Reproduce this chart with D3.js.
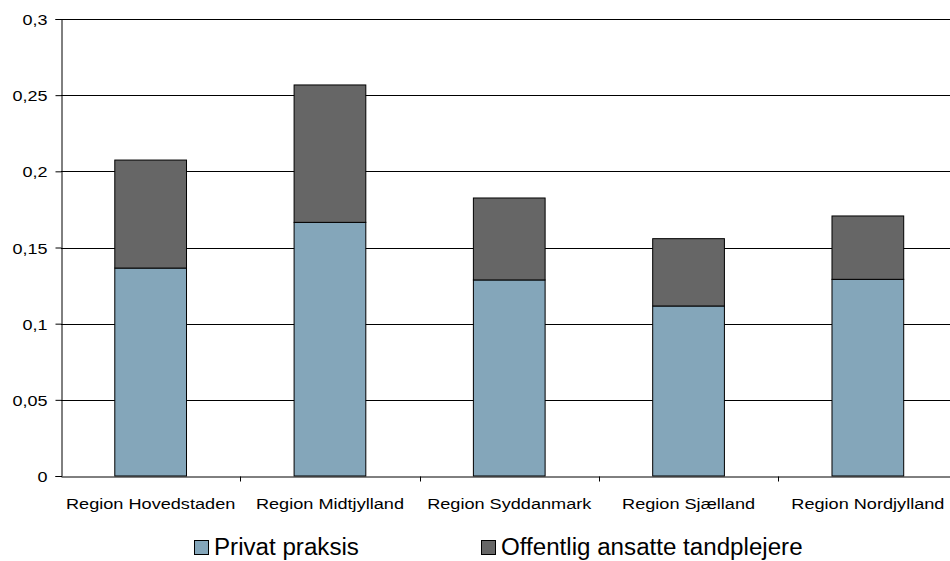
<!DOCTYPE html>
<html><head><meta charset="utf-8">
<script src="https://cdn.jsdelivr.net/npm/d3@7"></script>
<style>body{margin:0;background:#fff}svg{display:block;font-family:"Liberation Sans",Arial,sans-serif}</style>
</head><body><svg id="c" width="950" height="561"></svg>
<script>
const categories = ["Region Hovedstaden","Region Midtjylland","Region Syddanmark","Region Sjælland","Region Nordjylland"];
const privat = [0.1365,0.1665,0.1287,0.1116,0.1291];
const offentlig = [0.0709,0.0902,0.0538,0.0442,0.0416];
const seriesNames = ["Privat praksis","Offentlig ansatte tandplejere"];
const yTicks = [0,0.05,0.1,0.15,0.2,0.25,0.3];
const yTickLabels = ["0","0,05","0,1","0,15","0,2","0,25","0,3"];
const colors = ["#84A6BA","#666666"];

const svg = d3.select("#c");
const L=61, R=957.5, T=19, B=476;
const FONT = "Liberation Sans, Arial, sans-serif";
const x = d3.scaleBand().domain(categories).range([L,R]).paddingInner(0).paddingOuter(0);
const y = d3.scaleLinear().domain([0,0.3]).range([B,T]);

// gridlines
svg.append("g").selectAll("line").data(yTicks.slice(1)).join("line")
 .attr("x1",L).attr("x2",R).attr("y1",d=>Math.round(y(d))+0.5).attr("y2",d=>Math.round(y(d))+0.5)
 .attr("stroke","#000").attr("stroke-width",1);

const data = categories.map((c,i)=>({cat:c,p:privat[i],o:offentlig[i]}));
const bw = x.bandwidth()*0.4;
const g = svg.append("g");
data.forEach(d=>{
  const cx = x(d.cat)+x.bandwidth()/2;
  g.append("rect").attr("x",cx-bw/2).attr("width",bw).attr("y",y(d.p)).attr("height",y(0)-y(d.p))
   .attr("fill",colors[0]).attr("stroke","#000").attr("stroke-width",1);
  g.append("rect").attr("x",cx-bw/2).attr("width",bw).attr("y",y(d.p+d.o)).attr("height",y(d.p)-y(d.p+d.o))
   .attr("fill",colors[1]).attr("stroke","#000").attr("stroke-width",1);
});

// y axis
const ya = d3.axisLeft(y).tickValues(yTicks).tickFormat((d,i)=>yTickLabels[i]).tickSize(6).tickPadding(8);
const yg = svg.append("g").attr("transform",`translate(${L+0.5},0)`).call(ya);
yg.select(".domain").attr("stroke","#000");
yg.selectAll(".tick line").attr("stroke","#000");
yg.selectAll("text").attr("font-size","15.5px").attr("fill","#000").attr("font-family",FONT)
  .attr("x",0).attr("dy","0.36em").attr("transform","translate(-14,0) scale(1.16,1)");

// x axis
const xa = d3.axisBottom(x).tickSize(0).tickPadding(0);
const xg = svg.append("g").attr("transform",`translate(0,${B+0.5})`).call(xa);
xg.select(".domain").attr("stroke","#000");
xg.selectAll("text").attr("font-size","15.5px").attr("fill","#000").attr("font-family",FONT)
  .attr("y",0).attr("dy",0).attr("transform","translate(0,32.5) scale(1.17,1)");
xg.selectAll("line.sep").data(categories.slice(1)).join("line").attr("class","sep")
 .attr("x1",d=>Math.round(x(d))+0.5).attr("x2",d=>Math.round(x(d))+0.5).attr("y1",0).attr("y2",5).attr("stroke","#000");

// legend
const lg = svg.append("g");
const lx = [194,481];
seriesNames.forEach((n,i)=>{
  lg.append("rect").attr("x",lx[i]+0.5).attr("y",540.5).attr("width",14).attr("height",14)
    .attr("fill",colors[i]).attr("stroke","#000").attr("stroke-width",1);
  lg.append("text").attr("transform",`translate(${lx[i]+20},555) scale(1.05,1)`)
    .attr("font-size","23px").attr("font-family",FONT).attr("fill","#000").text(n);
});
</script></body></html>
